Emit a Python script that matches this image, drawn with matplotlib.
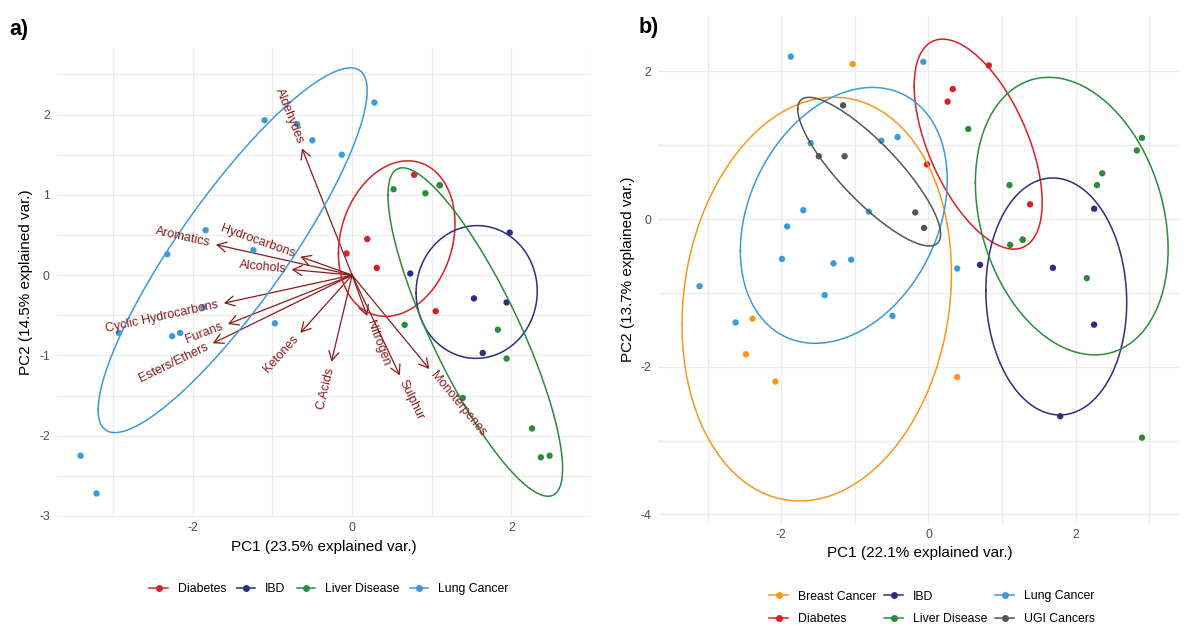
import numpy as np
import matplotlib
matplotlib.use("Agg")
import matplotlib.pyplot as plt
from matplotlib.lines import Line2D
from matplotlib.patches import FancyArrowPatch

plt.rcParams['font.family'] = ['Liberation Sans', 'DejaVu Sans']
plt.rcParams['axes.unicode_minus'] = False

# ---------------- Panel a data ----------------
diab_a_x = [0.78, 0.19, -0.07, 0.31, 1.05, 1.10]
diab_a_y = [1.25, 0.45, 0.27, 0.09, -0.45, 1.12]
ibd_a_x = [0.73, 1.98, 1.53, 1.94, 1.64]
ibd_a_y = [0.02, 0.53, -0.29, -0.34, -0.97]
liver_a_x = [0.52, 0.92, 1.10, 0.66, 1.83, 1.94, 1.39, 2.26, 2.37, 2.48]
liver_a_y = [1.07, 1.02, 1.12, -0.62, -0.68, -1.04, -1.53, -1.91, -2.27, -2.25]
lung_a_x = [-1.10, -0.69, -0.50, -0.13, 0.28, -1.84, -2.32, -1.24, -1.87,
            -2.93, -2.26, -2.16, -0.97, -3.41, -3.21]
lung_a_y = [1.93, 1.88, 1.68, 1.50, 2.15, 0.56, 0.26, 0.31, -0.40,
            -0.72, -0.76, -0.72, -0.60, -2.25, -2.72]
# centre of the lung-cancer ellipse (panel a)
lung_a_ellipse_centre = [-1.50, 0.31]

var_names = ['Aldehydes', 'Aromatics', 'Hydrocarbons', 'Alcohols',
             'Cyclic Hydrocarbons', 'Furans', 'Esters/Ethers', 'Ketones',
             'C.Acids', 'Nitrogen', 'Sulphur', 'Monoterpenes']
var_x = [-0.63, -1.71, -0.65, -0.76, -1.61, -1.56, -1.75, -0.65, -0.26, 0.19, 0.60, 0.97]
var_y = [1.58, 0.38, 0.23, 0.07, -0.35, -0.61, -0.85, -0.72, -1.08, -0.51, -1.25, -1.17]

# ---------------- Panel b data ----------------
breast_b_x = [-1.03, -2.39, -2.48, -2.08, 0.39]
breast_b_y = [2.10, -1.35, -1.83, -2.20, -2.14]
diab_b_x = [0.82, 0.33, 0.26, -0.02, 1.38, 1.28]
diab_b_y = [2.08, 1.76, 1.59, 0.74, 0.20, -0.28]
ibd_b_x = [0.70, 1.69, 2.25, 2.25, 1.79]
ibd_b_y = [-0.62, -0.66, 0.14, -1.43, -2.67]
liver_b_x = [0.54, 2.90, 2.83, 2.36, 2.29, 1.10, 1.11, 1.28, 2.15, 2.90]
liver_b_y = [1.22, 1.10, 0.93, 0.62, 0.46, 0.46, -0.35, -0.28, -0.80, -2.96]
lung_b_x = [-1.87, -0.07, -1.60, -0.64, -0.42, -1.70, -1.92, -0.81, -1.99,
            -1.29, -1.05, -3.11, -1.41, 0.39, -0.49, -2.62]
lung_b_y = [2.20, 2.13, 1.03, 1.06, 1.11, 0.12, -0.10, 0.10, -0.54,
            -0.60, -0.55, -0.91, -1.03, -0.67, -1.31, -1.40]
# centre of the lung-cancer ellipse (panel b)
lung_b_ellipse_centre = [-1.15, 0.05]
ugi_b_x = [-1.16, -1.49, -1.14, -0.18, -0.06]
ugi_b_y = [1.54, 0.85, 0.85, 0.09, -0.12]

groups_a = [
    ('Diabetes', diab_a_x, diab_a_y, '#D81F26', None),
    ('IBD', ibd_a_x, ibd_a_y, '#2B2E83', None),
    ('Liver Disease', liver_a_x, liver_a_y, '#2A8B3B', None),
    ('Lung Cancer', lung_a_x, lung_a_y, '#3C9AD8', lung_a_ellipse_centre),
]
groups_b = [
    ('Breast Cancer', breast_b_x, breast_b_y, '#F7971C', None),
    ('Diabetes', diab_b_x, diab_b_y, '#D81F26', None),
    ('IBD', ibd_b_x, ibd_b_y, '#2B2E83', None),
    ('Liver Disease', liver_b_x, liver_b_y, '#2A8B3B', None),
    ('Lung Cancer', lung_b_x, lung_b_y, '#3C9AD8', lung_b_ellipse_centre),
    ('UGI Cancers', ugi_b_x, ugi_b_y, '#555555', None),
]
# drawing order of the points (later ones cover earlier ones)
point_order_a = ['Diabetes', 'IBD', 'Lung Cancer', 'Liver Disease']
point_order_b = ['Breast Cancer', 'Diabetes', 'IBD', 'Lung Cancer', 'UGI Cancers', 'Liver Disease']

ARROW_COL = '#8B1A1A'
GRID_COL = '#EBEBEB'
TICK_COL = '#4D4D4D'


def ellipse_path(x, y, centre=None, prob=0.68, n=100):
    x = np.asarray(x, float)
    y = np.asarray(y, float)
    sigma = np.cov(np.vstack([x, y]))
    mu = np.array([x.mean(), y.mean()]) if centre is None else np.asarray(centre, float)
    ed = np.sqrt(-2.0 * np.log(1.0 - prob))  # chi-square quantile, df=2
    theta = np.linspace(-np.pi, np.pi, n)
    circle = np.column_stack([np.cos(theta), np.sin(theta)])
    R = np.linalg.cholesky(sigma).T
    pts = circle @ R * ed + mu
    return pts[:, 0], pts[:, 1]


def style_axes(ax, xlim, ylim, xmaj, xmin, ymaj, ymin):
    ax.set_xlim(*xlim)
    ax.set_ylim(*ylim)
    ax.set_xticks(xmaj)
    ax.set_xticks(xmin, minor=True)
    ax.set_yticks(ymaj)
    ax.set_yticks(ymin, minor=True)
    ax.grid(True, which='major', color=GRID_COL, lw=0.9, zorder=0)
    ax.grid(True, which='minor', color=GRID_COL, lw=0.9, zorder=0)
    ax.set_axisbelow(True)
    for s in ax.spines.values():
        s.set_visible(False)
    ax.tick_params(which='both', length=0, labelsize=8.8, labelcolor=TICK_COL, pad=4)
    ax.tick_params(axis='y', pad=5)


def draw_groups(ax, groups, order):
    lookup = {g[0]: g for g in groups}
    for name in order:
        _, xs, ys, c, _ = lookup[name]
        ax.scatter(xs, ys, s=21, color=c, edgecolors='none', zorder=3)
    for name, xs, ys, c, centre in groups:
        ex, ey = ellipse_path(xs, ys, centre)
        ax.plot(ex, ey, color=c, lw=1.1, zorder=4)


W, H = 1184, 627
fig = plt.figure(figsize=(W / 100, H / 100), dpi=100)

# ---------------- Panel a ----------------
axa = fig.add_axes([56.7 / W, 1 - 516.7 / H, 534.3 / W, 468.7 / H])
style_axes(axa, (-3.71, 2.94), (-3.01, 2.83),
           [-2, 0, 2], [-3, -1, 1, 3],
           [-3, -2, -1, 0, 1, 2], [-2.5, -1.5, -0.5, 0.5, 1.5, 2.5])

for vx, vy, name in zip(var_x, var_y, var_names):
    arr = FancyArrowPatch((0, 0), (vx, vy),
                          arrowstyle='->,head_length=0.55,head_width=0.3',
                          mutation_scale=12, color=ARROW_COL, lw=0.9,
                          shrinkA=0, shrinkB=0, zorder=2)
    axa.add_patch(arr)

draw_groups(axa, groups_a, point_order_a)

for vx, vy, name in zip(var_x, var_y, var_names):
    L = np.hypot(vx, vy)
    gap = 0.07
    tx, ty = vx + gap * vx / L, vy + gap * vy / L
    ang = np.degrees(np.arctan(vy / vx))
    axa.text(tx, ty, name, rotation=ang, rotation_mode='anchor',
             ha='right' if vx < 0 else 'left', va='center',
             fontsize=9, color=ARROW_COL, zorder=5)

axa.set_xlabel('PC1 (23.5% explained var.)', fontsize=11, labelpad=4)
axa.set_ylabel('PC2 (14.5% explained var.)', fontsize=11, labelpad=4)

handles_a = [Line2D([0], [0], color=g[3], lw=1.1, marker='o', markersize=5,
                    markeredgewidth=0) for g in groups_a]
fig.legend(handles_a, [g[0] for g in groups_a], loc='center',
           bbox_to_anchor=(329 / W, 1 - 589 / H), ncol=4, frameon=False,
           fontsize=8.8, handlelength=1.5, handletextpad=0.8,
           columnspacing=0.9, borderaxespad=0)

# ---------------- Panel b ----------------
axb = fig.add_axes([658.3 / W, 1 - 523.3 / H, 522.7 / W, 507.3 / H])
style_axes(axb, (-3.67, 3.43), (-4.12, 2.75),
           [-2, 0, 2], [-3, -1, 1, 3],
           [-4, -2, 0, 2], [-3, -1, 1])

draw_groups(axb, groups_b, point_order_b)

axb.set_xlabel('PC1 (22.1% explained var.)', fontsize=11, labelpad=4)
axb.set_ylabel('PC2 (13.7% explained var.)', fontsize=11, labelpad=4)

handles_b = [Line2D([0], [0], color=g[3], lw=1.1, marker='o', markersize=5,
                    markeredgewidth=0) for g in groups_b]
fig.legend(handles_b, [g[0] for g in groups_b], loc='center',
           bbox_to_anchor=(932 / W, 1 - 608 / H), ncol=3, frameon=False,
           fontsize=8.8, handlelength=1.5, handletextpad=0.8,
           columnspacing=0.7, labelspacing=0.9, borderaxespad=0)

fig.text(9 / W, 1 - 35 / H, 'a)', fontsize=15.5, fontweight='bold', va='baseline')
fig.text(639 / W, 1 - 33 / H, 'b)', fontsize=15.5, fontweight='bold', va='baseline')

fig.savefig('out.png', dpi=100)
